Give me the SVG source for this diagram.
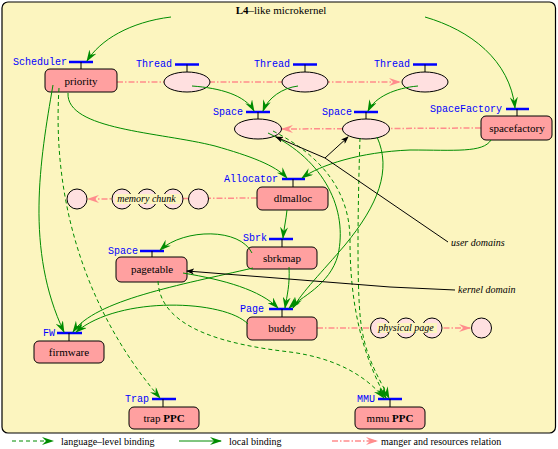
<svg xmlns="http://www.w3.org/2000/svg" width="558" height="449" viewBox="0 0 558 449">
<style>
.lbl{font-family:"Liberation Mono",monospace;font-size:10px;fill:#0000ff}
.bar{stroke:#0000ff;stroke-width:2.5}
.tick{stroke:#000;stroke-width:1}
.box{fill:#ffa0a0;stroke:#000;stroke-width:1}
.ell{fill:#ffe0e0;stroke:#000;stroke-width:1}
.nt{font-family:"Liberation Serif",serif;font-size:11px;text-anchor:middle;fill:#000}
.it{font-family:"Liberation Serif",serif;font-size:10px;font-style:italic;fill:#000}
.band{fill:#fcf5bf}
.loc{fill:none;stroke:#008c00;stroke-width:1;marker-end:url(#ga)}
.lang{fill:none;stroke:#008c00;stroke-width:1;stroke-dasharray:4,3;marker-end:url(#ga)}
.rel{fill:none;stroke:#ff8c8c;stroke-width:1.5;stroke-dasharray:6,2,1.5,2}
.blk{fill:none;stroke:#000;stroke-width:1}
.leg{font-family:"Liberation Serif",serif;font-size:10px;fill:#000}
</style>
<defs>
<marker id="ga" markerUnits="userSpaceOnUse" markerWidth="12" markerHeight="8" refX="11" refY="4" orient="auto">
<path d="M0,0 L12,4 L0,8 L4,4 z" fill="#008c00"/>
</marker>
<marker id="ra" markerUnits="userSpaceOnUse" markerWidth="12" markerHeight="8" refX="11" refY="4" orient="auto">
<path d="M0,0 L12,4 L0,8 L4,4 z" fill="#ff8c8c"/>
</marker>
<marker id="ba" markerUnits="userSpaceOnUse" markerWidth="8" markerHeight="6" refX="7" refY="3" orient="auto">
<path d="M0,0 L8,3 L0,6 L2,3 z" fill="#000"/>
</marker>
</defs>

<rect x="2" y="2" width="553.5" height="431" rx="6" fill="#fcf5bf" stroke="#000" stroke-width="1.2"/>
<text x="281" y="14" class="nt"><tspan font-weight="bold">L4</tspan>–like microkernel</text>

<g id="relations">
<path class="rel" d="M117,82 L400,82" marker-end="url(#ra)"/>
<path class="rel" d="M481,128 L282,129" marker-end="url(#ra)"/>
<path class="rel" d="M257,198 L88,199" marker-end="url(#ra)"/>
<path class="rel" d="M317,328 L470,328" marker-end="url(#ra)"/>
</g>

<g id="scheduler">
<text class="lbl" x="13" y="65">Scheduler</text>
<line class="bar" x1="69" y1="62" x2="93" y2="62"/>
<line class="tick" x1="81" y1="62" x2="81" y2="69"/>
<rect class="box" x="45" y="69" width="72" height="23" rx="5"/>
<text class="nt" x="81" y="84.5">priority</text>
</g>
<g id="thread1">
<text class="lbl" x="136" y="67">Thread</text>
<line class="bar" x1="175" y1="64.5" x2="199" y2="64.5"/>
<line class="tick" x1="187" y1="64.5" x2="187" y2="72"/>
<ellipse class="ell" cx="187" cy="82" rx="23" ry="10"/>
</g>
<g id="thread2">
<text class="lbl" x="254" y="67">Thread</text>
<line class="bar" x1="293" y1="64.5" x2="317" y2="64.5"/>
<line class="tick" x1="305" y1="64.5" x2="305" y2="72"/>
<ellipse class="ell" cx="305" cy="82" rx="23" ry="10"/>
</g>
<g id="thread3">
<text class="lbl" x="374" y="67">Thread</text>
<line class="bar" x1="413" y1="64.5" x2="437" y2="64.5"/>
<line class="tick" x1="425" y1="64.5" x2="425" y2="72"/>
<ellipse class="ell" cx="425" cy="82" rx="23" ry="10"/>
</g>
<g id="space1">
<text class="lbl" x="213" y="115">Space</text>
<line class="bar" x1="246" y1="112" x2="270" y2="112"/>
<line class="tick" x1="258" y1="112" x2="258" y2="119"/>
<ellipse class="ell" cx="258" cy="129" rx="23.5" ry="10"/>
</g>
<g id="space2">
<text class="lbl" x="322" y="115">Space</text>
<line class="bar" x1="354" y1="112" x2="378" y2="112"/>
<line class="tick" x1="366" y1="112" x2="366" y2="119"/>
<ellipse class="ell" cx="366" cy="129" rx="23.5" ry="10"/>
</g>
<g id="spacefactory">
<text class="lbl" x="430" y="112">SpaceFactory</text>
<line class="bar" x1="506" y1="109" x2="529" y2="109"/>
<line class="tick" x1="517" y1="109" x2="517" y2="116"/>
<rect class="box" x="481" y="116" width="71" height="24" rx="5"/>
<text class="nt" x="517" y="131.5">spacefactory</text>
</g>
<g id="allocator">
<text class="lbl" x="224" y="182">Allocator</text>
<line class="bar" x1="282" y1="179" x2="305" y2="179"/>
<line class="tick" x1="293" y1="179" x2="293" y2="187"/>
<rect class="box" x="257" y="187" width="71" height="23" rx="5"/>
<text class="nt" x="293" y="202">dlmalloc</text>
</g>
<g id="memchunk">
<circle class="ell" cx="77" cy="199" r="10"/>
<circle class="ell" cx="122" cy="199" r="10"/>
<circle class="ell" cx="147" cy="199" r="10"/>
<circle class="ell" cx="173" cy="199" r="10"/>
<circle class="ell" cx="198.5" cy="199" r="10"/>
<rect class="band" x="115" y="194" width="66" height="10"/>
<text class="it" x="146.5" y="202" text-anchor="middle">memory chunk</text>
</g>
<g id="sbrk">
<text class="lbl" x="243" y="241">Sbrk</text>
<line class="bar" x1="269" y1="239" x2="293" y2="239"/>
<line class="tick" x1="282" y1="239" x2="282" y2="247"/>
<rect class="box" x="247" y="247" width="70" height="22" rx="5"/>
<text class="nt" x="282" y="262">sbrkmap</text>
</g>
<g id="pagetable">
<text class="lbl" x="108" y="254">Space</text>
<line class="bar" x1="140" y1="251" x2="164" y2="251"/>
<line class="tick" x1="152" y1="251" x2="152" y2="257"/>
<rect class="box" x="116" y="257" width="71" height="25" rx="5"/>
<text class="nt" x="152" y="273">pagetable</text>
</g>
<g id="page">
<text class="lbl" x="240" y="312">Page</text>
<line class="bar" x1="269" y1="309" x2="293" y2="309"/>
<line class="tick" x1="282" y1="309" x2="282" y2="317"/>
<rect class="box" x="247" y="317" width="70" height="23" rx="5"/>
<text class="nt" x="282" y="332">buddy</text>
</g>
<g id="physpage">
<circle class="ell" cx="380.5" cy="328" r="10"/>
<circle class="ell" cx="406" cy="328" r="10"/>
<circle class="ell" cx="432" cy="328" r="10"/>
<circle class="ell" cx="481.5" cy="328" r="10"/>
<rect class="band" x="377" y="323" width="60" height="10"/>
<text class="it" x="406" y="331" text-anchor="middle">physical page</text>
</g>
<g id="fw">
<text class="lbl" x="43" y="336">FW</text>
<line class="bar" x1="57" y1="333" x2="82" y2="333"/>
<line class="tick" x1="69" y1="333" x2="69" y2="341"/>
<rect class="box" x="34" y="341" width="70" height="22" rx="5"/>
<text class="nt" x="69" y="356">firmware</text>
</g>
<g id="trap">
<text class="lbl" x="125" y="402">Trap</text>
<line class="bar" x1="152" y1="399" x2="176" y2="399"/>
<line class="tick" x1="163" y1="399" x2="163" y2="407"/>
<rect class="box" x="129" y="407" width="70" height="22" rx="5"/>
<text class="nt" x="164" y="422">trap <tspan font-weight="bold">PPC</tspan></text>
</g>
<g id="mmu">
<text class="lbl" x="357" y="402">MMU</text>
<line class="bar" x1="378" y1="399" x2="402" y2="399"/>
<line class="tick" x1="390" y1="399" x2="390" y2="407"/>
<rect class="box" x="355" y="407" width="70" height="22" rx="5"/>
<text class="nt" x="390" y="422">mmu <tspan font-weight="bold">PPC</tspan></text>
</g>

<g id="connectors">
<path class="loc" d="M171,17 C130,22 100,40 87,61"/>
<path class="loc" d="M425,17 C470,30 510,60 515,108"/>
<path class="loc" d="M192,86 C220,88 245,95 254,111"/>
<path class="loc" d="M298,86 C282,88 268,98 263,111"/>
<path class="loc" d="M418,86 C395,88 375,97 368,111"/>
<path class="loc" d="M68,93 C66,130 160,132 215,146 C250,156 275,165 287,178"/>
<path class="loc" d="M491,140 C483,153 455,150 410,150 C360,152 320,165 302,178"/>
<path class="loc" d="M287,210 C286,220 284,228 283,238"/>
<path class="loc" d="M252,253 C240,228 185,228 160,250"/>
<path class="loc" d="M289,267 C290,285 287,295 285,308"/>
<path class="loc" d="M183,273 C225,280 260,290 278,308"/>
<path class="loc" d="M253,268 C180,285 95,300 73,332"/>
<path class="loc" d="M248,324 C225,300 120,295 76,332"/>
<path class="loc" d="M53,85 C40,160 25,250 64,332"/>
<path class="loc" d="M268,133 C325,160 348,210 338,255 C330,285 300,298 289,308"/>
<path class="loc" d="M377,137 C392,170 378,205 345,245 C322,272 302,292 293,308"/>
<path class="lang" d="M59,88 C52,200 85,310 160,398"/>
<path class="lang" d="M158,281 C160,330 230,345 290,352 C335,358 365,375 384,398"/>
<path class="lang" d="M273,131 C320,155 350,190 350,240 C350,300 360,350 386,398"/>
<path class="lang" d="M360,138 C358,200 356,300 362,330 C367,360 380,380 389,398"/>
<path class="blk" d="M448,242 L325,158 L276,137" marker-end="url(#ba)"/>
<path class="blk" d="M325,158 L348,137" marker-end="url(#ba)"/>
<path class="blk" d="M455,290 L390,287 L187,271" marker-end="url(#ba)"/>
<text class="it" x="451" y="246">user domains</text>
<text class="it" x="458" y="293">kernel domain</text>
</g>

<g id="legend">
<path class="lang" d="M12,441 L53,441"/>
<text class="leg" x="61" y="445">language–level binding</text>
<path class="loc" d="M179,441 L221,441"/>
<text class="leg" x="229" y="445">local binding</text>
<path class="rel" d="M332,441 L377,441" marker-end="url(#ra)"/>
<text class="leg" x="381" y="445">manger and resources relation</text>
</g>
</svg>
